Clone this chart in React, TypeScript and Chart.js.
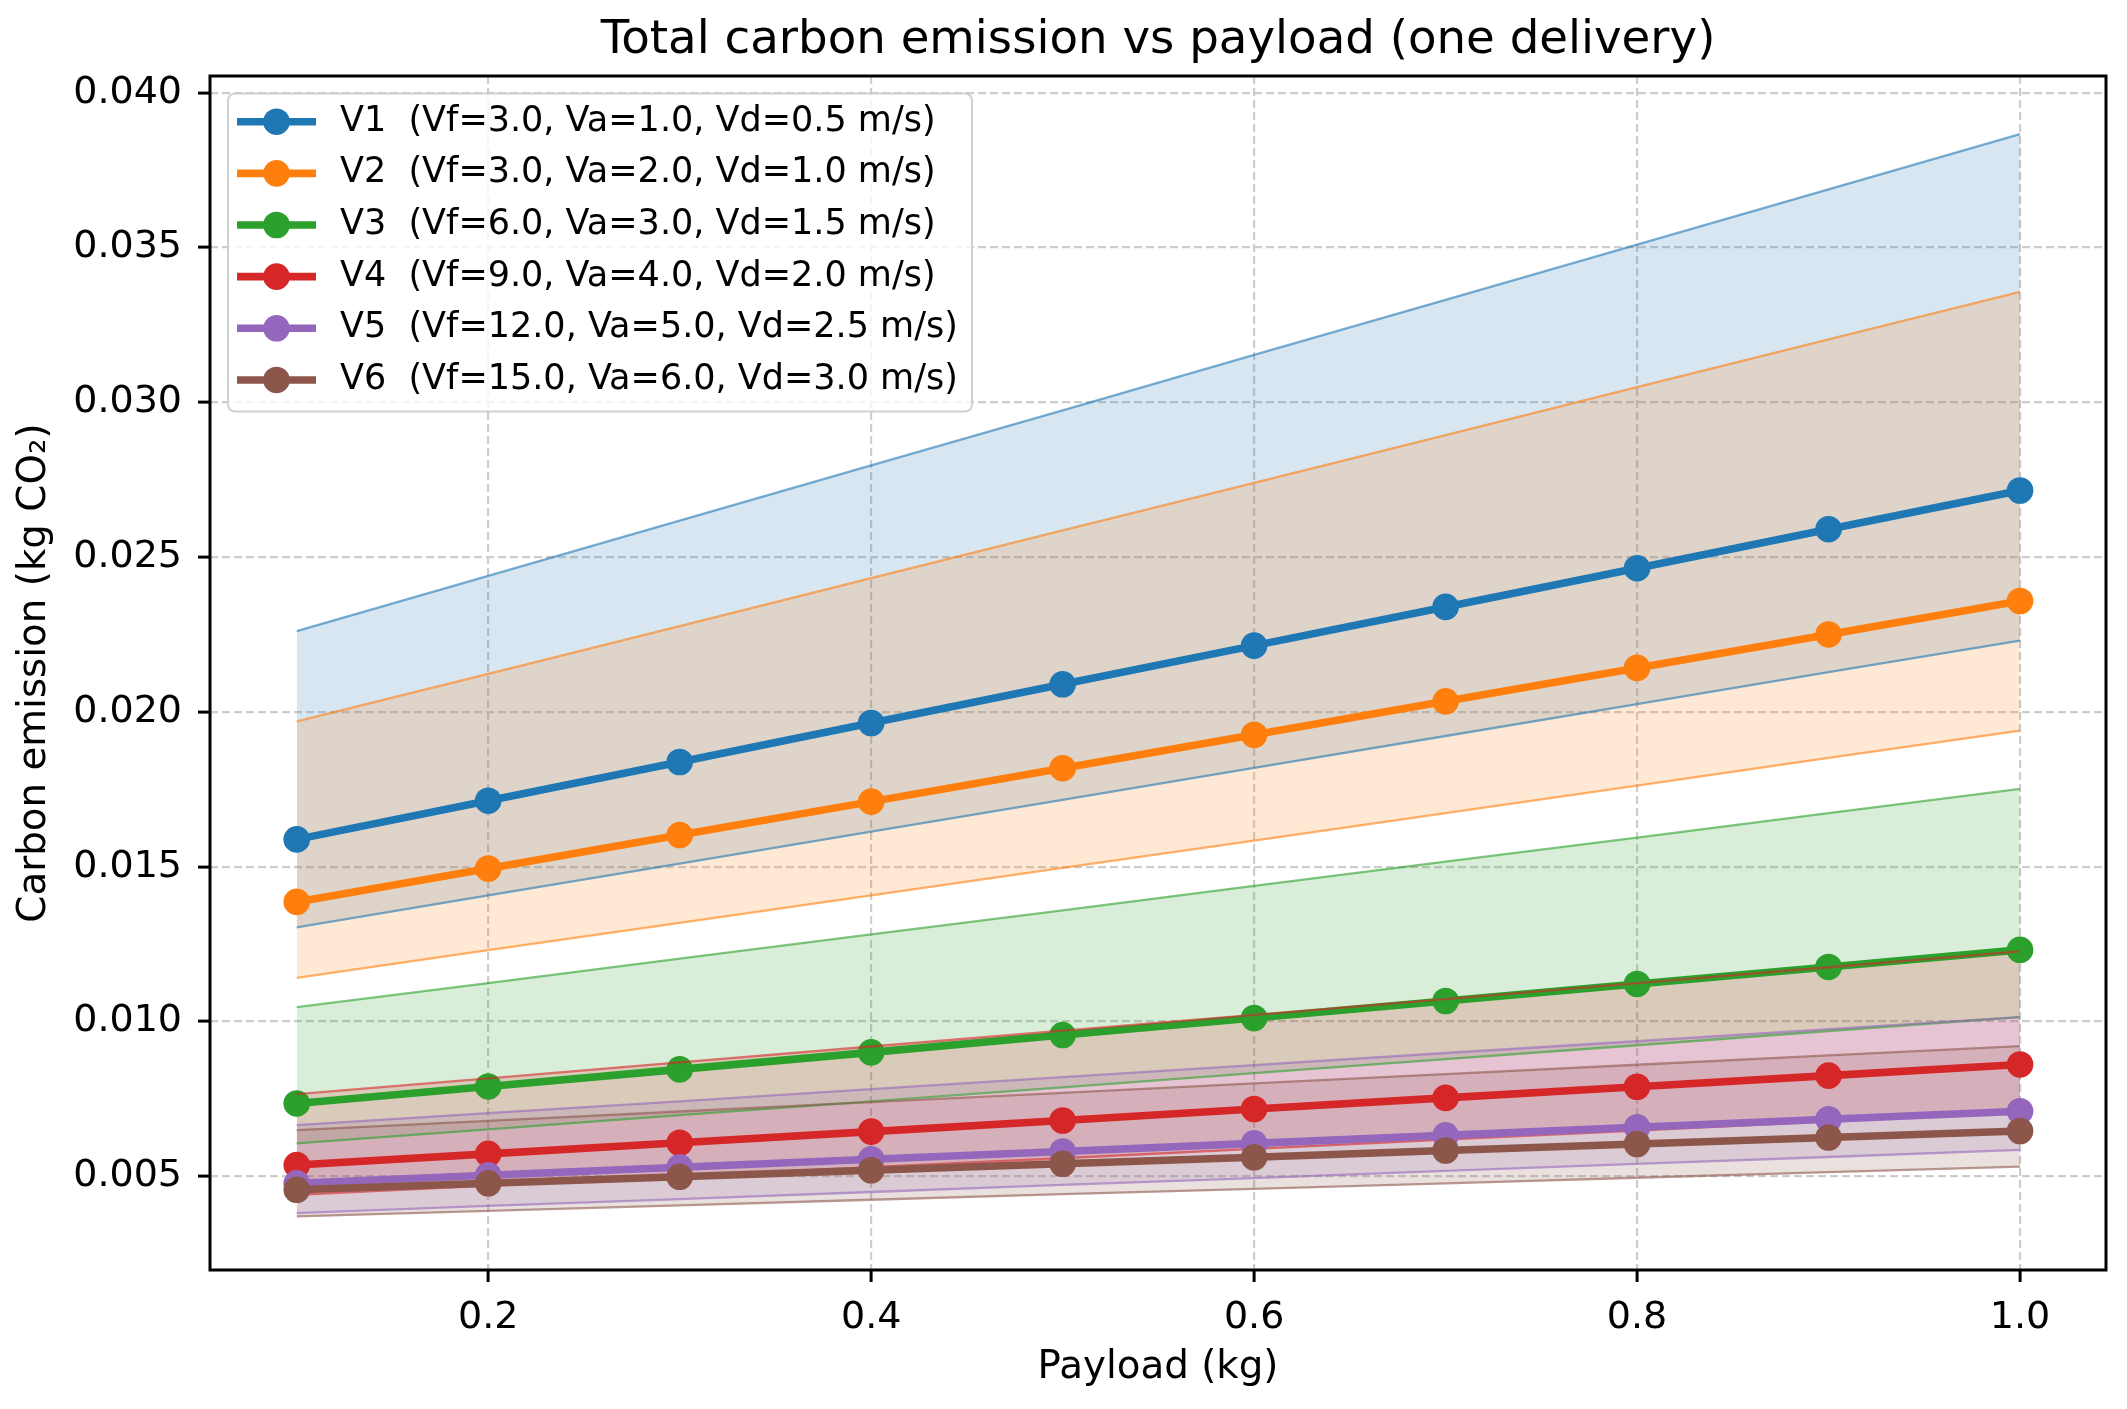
import { useEffect, useRef } from "react";
import { Chart, registerables } from "chart.js";

Chart.register(...registerables);

const FONT = "'DejaVu Sans', 'Noto Sans', sans-serif";

const payload = [0.1, 0.2, 0.3, 0.4, 0.5, 0.6, 0.7, 0.8, 0.9, 1.0];

const seriesLabels = [
  "V1  (Vf=3.0, Va=1.0, Vd=0.5 m/s)",
  "V2  (Vf=3.0, Va=2.0, Vd=1.0 m/s)",
  "V3  (Vf=6.0, Va=3.0, Vd=1.5 m/s)",
  "V4  (Vf=9.0, Va=4.0, Vd=2.0 m/s)",
  "V5  (Vf=12.0, Va=5.0, Vd=2.5 m/s)",
  "V6  (Vf=15.0, Va=6.0, Vd=3.0 m/s)",
];

const seriesColors = ["#1f77b4", "#ff7f0e", "#2ca02c", "#d62728", "#9467bd", "#8c564b"];

const v1Mean = [0.01588, 0.01713, 0.01838, 0.01964, 0.02089, 0.02214, 0.02339, 0.02464, 0.0259, 0.02715];
const v1Lower = [0.01304, 0.01407, 0.0151, 0.01613, 0.01716, 0.01819, 0.01922, 0.02025, 0.02128, 0.0223];
const v1Upper = [0.02261, 0.02439, 0.02618, 0.02796, 0.02974, 0.03153, 0.03331, 0.03509, 0.03688, 0.03866];

const v2Mean = [0.01386, 0.01494, 0.01602, 0.0171, 0.01818, 0.01926, 0.02034, 0.02142, 0.0225, 0.02358];
const v2Lower = [0.01141, 0.0123, 0.01318, 0.01407, 0.01496, 0.01584, 0.01673, 0.01762, 0.01851, 0.01939];
const v2Upper = [0.01969, 0.02123, 0.02277, 0.02432, 0.02586, 0.0274, 0.02894, 0.03049, 0.03203, 0.03357];

const v3Mean = [0.00735, 0.0079, 0.00845, 0.009, 0.00956, 0.01011, 0.01066, 0.01121, 0.01176, 0.01231];
const v3Lower = [0.00606, 0.00651, 0.00697, 0.00742, 0.00787, 0.00833, 0.00878, 0.00923, 0.00969, 0.01014];
const v3Upper = [0.01046, 0.01124, 0.01203, 0.01281, 0.01359, 0.01438, 0.01516, 0.01594, 0.01673, 0.01751];

const v4Mean = [0.00536, 0.00572, 0.00608, 0.00644, 0.0068, 0.00717, 0.00753, 0.00789, 0.00825, 0.00861];
const v4Lower = [0.0044, 0.0047, 0.00499, 0.00529, 0.00558, 0.00588, 0.00618, 0.00647, 0.00677, 0.00706];
const v4Upper = [0.00765, 0.00816, 0.00868, 0.00919, 0.0097, 0.01021, 0.01072, 0.01124, 0.01175, 0.01226];

const v5Mean = [0.00477, 0.00503, 0.00529, 0.00555, 0.0058, 0.00606, 0.00632, 0.00658, 0.00684, 0.0071];
const v5Lower = [0.00381, 0.00404, 0.00426, 0.00449, 0.00472, 0.00494, 0.00517, 0.0054, 0.00562, 0.00585];
const v5Upper = [0.00665, 0.00704, 0.00742, 0.00781, 0.0082, 0.00859, 0.00898, 0.00936, 0.00975, 0.01014];

const v6Mean = [0.00456, 0.00477, 0.00498, 0.00519, 0.0054, 0.00561, 0.00583, 0.00604, 0.00625, 0.00646];
const v6Lower = [0.0037, 0.00388, 0.00406, 0.00424, 0.00442, 0.00459, 0.00477, 0.00495, 0.00513, 0.00531];
const v6Upper = [0.00649, 0.00679, 0.00709, 0.00739, 0.00769, 0.008, 0.0083, 0.0086, 0.0089, 0.0092];

const meanSeries = [v1Mean, v2Mean, v3Mean, v4Mean, v5Mean, v6Mean];
const lowerSeries = [v1Lower, v2Lower, v3Lower, v4Lower, v5Lower, v6Lower];
const upperSeries = [v1Upper, v2Upper, v3Upper, v4Upper, v5Upper, v6Upper];

const xTicks = [0.2, 0.4, 0.6, 0.8, 1.0];
const yTicks = [0.005, 0.01, 0.015, 0.02, 0.025, 0.03, 0.035, 0.04];

const titleText = "Total carbon emission vs payload (one delivery)";
const xTitle = "Payload (kg)";
const yTitle = "Carbon emission (kg CO\u2082)";

function rgba(hex: string, a: number) {
  const n = parseInt(hex.slice(1), 16);
  return `rgba(${(n >> 16) & 255},${(n >> 8) & 255},${n & 255},${a})`;
}

function pts(values: number[]) {
  return payload.map((x, i) => ({ x, y: values[i] }));
}

const framePlugin = {
  id: "mplFrame",
  afterDatasetsDraw(chart: any) {
    const { ctx, chartArea } = chart;
    ctx.save();
    ctx.strokeStyle = "#000";
    ctx.lineWidth = 3;
    ctx.strokeRect(chartArea.left, chartArea.top, chartArea.right - chartArea.left, chartArea.bottom - chartArea.top);
    ctx.restore();
  },
};

const axesTitlePlugin = {
  id: "mplTitle",
  afterDraw(chart: any) {
    const { ctx, chartArea } = chart;
    ctx.save();
    ctx.fillStyle = "#000";
    ctx.font = `46.7px ${FONT}`;
    ctx.textAlign = "center";
    ctx.textBaseline = "alphabetic";
    ctx.fillText(titleText, (chartArea.left + chartArea.right) / 2, chartArea.top - 23);
    ctx.restore();
  },
};

const legendPlugin = {
  id: "mplLegend",
  afterDraw(chart: any) {
    const { ctx, chartArea } = chart;
    const bx = chartArea.left + 18;
    const by = chartArea.top + 17.5;
    const bw = 744;
    const bh = 318;
    const r = 7;
    ctx.save();
    ctx.beginPath();
    ctx.moveTo(bx + r, by);
    ctx.lineTo(bx + bw - r, by);
    ctx.arcTo(bx + bw, by, bx + bw, by + r, r);
    ctx.lineTo(bx + bw, by + bh - r);
    ctx.arcTo(bx + bw, by + bh, bx + bw - r, by + bh, r);
    ctx.lineTo(bx + r, by + bh);
    ctx.arcTo(bx, by + bh, bx, by + bh - r, r);
    ctx.lineTo(bx, by + r);
    ctx.arcTo(bx, by, bx + r, by, r);
    ctx.closePath();
    ctx.fillStyle = "rgba(255,255,255,0.8)";
    ctx.fill();
    ctx.strokeStyle = "rgba(204,204,204,0.9)";
    ctx.lineWidth = 2;
    ctx.stroke();

    seriesLabels.forEach((label, k) => {
      const y = by + 28.2 + 51.65 * k;
      const c = seriesColors[k];
      ctx.beginPath();
      ctx.moveTo(bx + 9, y);
      ctx.lineTo(bx + 88, y);
      ctx.strokeStyle = c;
      ctx.lineWidth = 7.6;
      ctx.lineCap = "butt";
      ctx.stroke();
      ctx.beginPath();
      ctx.arc(bx + 48.5, y, 13.3, 0, Math.PI * 2);
      ctx.fillStyle = c;
      ctx.fill();
      ctx.fillStyle = "#000";
      ctx.font = `35px ${FONT}`;
      ctx.textAlign = "left";
      ctx.textBaseline = "middle";
      ctx.fillText(label, bx + 112, y);
    });
    ctx.restore();
  },
};

export default function App() {
  const ref = useRef<HTMLCanvasElement>(null);

  useEffect(() => {
    document.body.style.margin = "0";
    document.body.style.overflow = "hidden";
    Chart.defaults.font.family = FONT;
    Chart.defaults.color = "#000";

    const datasets: any[] = [];
    meanSeries.forEach((mean, i) => {
      const c = seriesColors[i];
      datasets.push({
        label: seriesLabels[i] + " lower",
        data: pts(lowerSeries[i]),
        borderColor: rgba(c, 0.6),
        borderWidth: 2.3,
        pointRadius: 0,
        fill: false,
        order: 100 - 3 * i,
      });
      datasets.push({
        label: seriesLabels[i] + " upper",
        data: pts(upperSeries[i]),
        borderColor: rgba(c, 0.6),
        backgroundColor: rgba(c, 0.18),
        borderWidth: 2.3,
        pointRadius: 0,
        fill: "-1",
        order: 99 - 3 * i,
      });
      datasets.push({
        label: seriesLabels[i],
        data: pts(mean),
        borderColor: c,
        backgroundColor: c,
        borderWidth: 7.6,
        pointRadius: 13.3,
        pointBackgroundColor: c,
        pointBorderWidth: 0,
        fill: false,
        order: 98 - 3 * i,
      });
    });

    const tickFont = { family: FONT, size: 38 };
    const labelFont = { family: FONT, size: 38.8 };

    const chart = new Chart(ref.current as HTMLCanvasElement, {
      type: "line",
      data: { datasets },
      plugins: [framePlugin, axesTitlePlugin, legendPlugin],
      options: {
        responsive: false,
        animation: false,
        devicePixelRatio: 1,
        events: [],
        layout: { padding: { left: 0, right: 21, top: 76, bottom: 0 } },
        plugins: {
          legend: { display: false },
          tooltip: { enabled: false },
          title: { display: false },
          filler: { drawTime: "beforeDatasetsDraw" },
        } as any,
        scales: {
          x: {
            type: "linear",
            min: 0.0547,
            max: 1.0449,
            afterBuildTicks: (s: any) => {
              s.ticks = xTicks.map((v) => ({ value: v }));
            },
            afterFit: (s: any) => {
              s.height = 139;
            },
            ticks: {
              callback: (v: any) => Number(v).toFixed(1),
              font: tickFont,
              color: "#000",
              padding: 13,
              maxRotation: 0,
              autoSkip: false,
            },
            grid: {
              color: "rgb(205,205,205)",
              lineWidth: 2.2,
              tickColor: "#000",
              tickWidth: 3,
              tickLength: 12,
              drawTicks: true,
              tickBorderDash: [],
            },
            border: { display: false, dash: [8, 4] },
            title: {
              display: true,
              text: xTitle,
              color: "#000",
              font: labelFont,
              padding: { top: 0, bottom: 18 },
            },
          },
          y: {
            type: "linear",
            min: 0.00197,
            max: 0.04054,
            afterBuildTicks: (s: any) => {
              s.ticks = yTicks.map((v) => ({ value: v }));
            },
            afterFit: (s: any) => {
              s.width = 210;
            },
            ticks: {
              callback: (v: any) => Number(v).toFixed(3),
              font: tickFont,
              color: "#000",
              padding: 16,
              autoSkip: false,
            },
            grid: {
              color: "rgb(205,205,205)",
              lineWidth: 2.2,
              tickColor: "#000",
              tickWidth: 3,
              tickLength: 12,
              drawTicks: true,
              tickBorderDash: [],
            },
            border: { display: false, dash: [8, 4] },
            title: {
              display: true,
              text: yTitle,
              color: "#000",
              font: labelFont,
              padding: { top: 12, bottom: 0 },
            },
          },
        } as any,
      },
    } as any);

    return () => chart.destroy();
  }, []);

  return (
    <div style={{ width: 2127, height: 1409 }}>
      <canvas ref={ref} width={2127} height={1409} style={{ display: "block", width: 2127, height: 1409 }} />
    </div>
  );
}
